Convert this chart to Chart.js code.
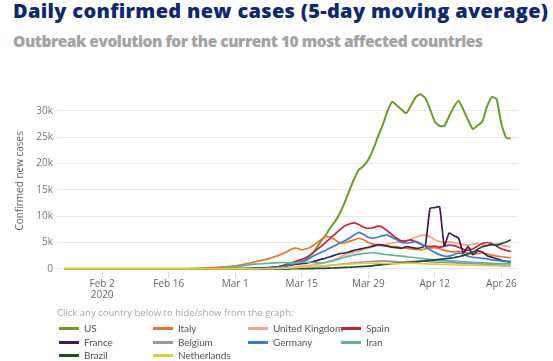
<!DOCTYPE html>
<html lang="en">
<head>
<meta charset="UTF-8">
<title>Daily confirmed new cases</title>
<script src="https://cdn.jsdelivr.net/npm/chart.js@4.4.1/dist/chart.umd.min.js"></script>
<style>
  body{ margin:0; background:#fff; width:553px; height:361px; overflow:hidden; position:relative; font-family:'Open Sans', sans-serif; }
  #chartBox{ position:absolute; left:0; top:0; width:553px; height:310px; }
  .title{ position:absolute; left:13px; top:-1px; font-size:20px; font-weight:800; color:#10296a; white-space:nowrap; line-height:24px; }
  .subtitle{ position:absolute; left:13px; top:31px; font-size:15.5px; font-weight:800; color:#a3a3a3; white-space:nowrap; line-height:20px; }
  .hint{ position:absolute; left:57px; top:306px; font-size:9.5px; color:#a6a6a6; white-space:nowrap; line-height:13px; }
  .item{ position:absolute; font-family:Lato, sans-serif; font-size:10px; color:#555; white-space:nowrap; line-height:12px; letter-spacing:-0.1px; }
  .item i{ display:inline-block; width:20px; height:2.5px; vertical-align:middle; margin-right:5px; position:relative; top:-1px; }
</style>
</head>
<body>
<div class="title" id="title">Daily confirmed new cases (5-day moving average)</div>
<div class="subtitle" id="subtitle">Outbreak evolution for the current 10 most affected countries</div>
<div id="chartBox"><canvas id="chart" width="553" height="310"></canvas></div>
<div class="hint">Click any country below to hide/show from the graph:</div>
<div id="legend"></div>
<script>
// day 0 = Jan 25 2020, last day = Apr 28 2020
const tickDays = [8, 22, 36, 50, 64, 78, 92];
const tickLabels = [['Feb 2', '2020'], 'Feb 16', 'Mar 1', 'Mar 15', 'Mar 29', 'Apr 12', 'Apr 26'];
const yTicks = [0, 5000, 10000, 15000, 20000, 25000, 30000];

const countries = ['US', 'Italy', 'United Kingdom', 'Spain', 'France', 'Belgium', 'Germany', 'Iran', 'Brazil', 'Netherlands'];
const colors = ['#6b9a2e', '#e8732a', '#f2a48c', '#c8203c', '#3f1f4c', '#9a93b2', '#3b7bd2', '#5fb3a2', '#1f4a30', '#e8cb3c'];

const us = [
  0,0,0,0,0,0,0,0,0,0,
  0,0,0,0,0,0,0,0,0,0,
  0,0,0,0,0,0,0,0,0,0,
  0,0,2,4,6,8,10,15,20,30,
  45,70,100,150,220,320,430,560,750,1000,
  1300,1800,2700,3800,5200,6300,7800,9000,10500,12500,
  14800,17000,18800,19500,20700,22600,25000,27200,29800,31700,
  31000,30200,29500,31000,32600,33100,32400,30300,27900,27100,
  27100,28900,30700,31900,30200,28200,26500,27200,27900,30800,
  32600,32200,27500,24900,24700];
const italy = [
  0,0,0,0,0,0,0,0,0,0,
  0,0,0,0,0,0,0,0,0,0,
  0,0,0,0,0,5,20,50,80,120,
  180,230,280,330,380,450,550,700,900,1100,
  1300,1500,1700,1900,2200,2500,2900,3300,3800,3900,
  3600,3800,4200,4800,5500,6100,6000,5500,5000,4900,
  5200,5500,5800,5500,5000,4700,4500,4400,4300,4200,
  4200,4000,3900,3800,3700,3600,3800,3900,4000,3800,
  3500,3300,3200,3300,3200,3000,2800,2900,3000,2800,
  2600,2400,2300,2200,2100];
const uk = [
  0,0,0,0,0,0,0,0,0,0,
  0,0,0,0,0,0,0,0,0,0,
  0,0,0,0,0,0,0,0,0,0,
  0,0,0,0,0,1,2,3,5,8,
  10,20,30,50,80,120,170,230,300,400,
  500,600,700,850,1000,1200,1500,1800,2200,2600,
  2900,3100,3400,3700,3900,4200,4400,4500,4700,4900,
  5000,5200,5400,5600,6000,6300,6400,6100,5500,5200,
  5000,5100,5000,4800,4600,4500,4700,4800,4600,4500,
  4600,4700,4500,4300,4200];
const spain = [
  0,0,0,0,0,0,0,0,0,0,
  0,0,0,0,0,0,0,0,0,0,
  0,0,0,0,0,0,0,0,0,0,
  0,0,0,0,0,1,2,4,8,12,
  20,40,80,150,250,400,600,900,1200,1500,
  1800,2200,2800,3500,4200,5000,5800,6600,7400,8100,
  8500,8700,8400,7900,7700,7800,8100,7900,7200,6500,
  5800,5300,5300,5500,5100,4700,4300,4200,4300,4100,
  4300,4500,4400,4100,3700,3500,3800,4300,4800,5000,
  4800,4300,3800,3500,3300];
const france = [
  0,0,0,0,0,0,0,0,0,0,
  0,0,0,0,0,0,0,0,0,0,
  0,0,0,0,0,0,0,0,0,0,
  0,0,0,0,5,10,20,40,60,90,
  120,160,200,250,320,400,500,650,800,900,
  1000,1100,1300,1500,1800,2000,2300,2600,2900,3000,
  3200,3500,3700,3900,4100,4300,4600,4500,4300,4100,
  4000,3900,4200,4100,3900,4000,4400,11500,11600,11800,
  4300,6800,6300,5800,3000,4200,2700,3400,3200,2500,
  2200,1900,1600,1400,1300];
const belgium = [
  0,0,0,0,0,0,0,0,0,0,
  0,0,0,0,0,0,0,0,0,0,
  0,0,0,0,0,0,0,0,0,0,
  0,0,0,0,0,0,0,0,0,0,
  0,2,5,10,20,40,60,90,120,160,
  200,240,300,380,460,550,650,750,850,950,
  1050,1150,1250,1300,1350,1400,1450,1500,1450,1400,
  1350,1300,1350,1400,1450,1500,1400,1350,1300,1250,
  1250,1200,1150,1100,1100,1050,1000,950,900,850,
  800,750,700,680,650];
const germany = [
  0,0,0,0,0,0,0,0,0,0,
  0,0,0,0,0,0,0,0,0,0,
  0,0,0,0,0,0,0,0,0,0,
  0,0,0,0,0,2,5,10,15,25,
  40,70,110,160,230,320,450,650,900,1100,
  1400,1700,2200,2700,3100,3500,4000,4400,4900,5300,
  5800,6400,6900,6500,6000,5800,6000,6300,6400,6000,
  5500,5000,4900,5000,5200,4800,4200,3600,3100,2700,
  2400,2400,2700,3000,2800,2400,2200,2100,2000,1900,
  1700,1600,1500,1400,1400];
const iran = [
  0,0,0,0,0,0,0,0,0,0,
  0,0,0,0,0,0,0,0,0,0,
  0,0,0,0,0,0,0,0,5,10,
  20,40,70,110,160,230,330,450,600,750,
  880,950,1000,1050,1100,1150,1200,1150,1100,1150,
  1200,1250,1200,1150,1100,1200,1400,1600,1900,2200,
  2400,2600,2800,2900,3000,3050,2950,2800,2700,2600,
  2500,2400,2300,2200,2100,2000,1900,1800,1700,1600,
  1550,1500,1450,1400,1350,1300,1250,1200,1150,1100,
  1050,1000,1000,1000,1000];
const brazil = [
  0,0,0,0,0,0,0,0,0,0,
  0,0,0,0,0,0,0,0,0,0,
  0,0,0,0,0,0,0,0,0,0,
  0,0,0,0,0,0,0,0,0,0,
  0,0,1,2,4,6,8,10,12,15,
  20,30,40,60,80,100,140,180,220,260,
  300,350,400,450,500,600,700,800,900,1000,
  1100,1150,1200,1250,1300,1400,1500,1600,1700,1800,
  1900,2000,2100,2300,2500,2800,3200,3700,4200,4400,
  4600,4500,4800,5100,5500];
const netherlands = [
  0,0,0,0,0,0,0,0,0,0,
  0,0,0,0,0,0,0,0,0,0,
  0,0,0,0,0,0,0,0,0,0,
  0,0,0,0,0,0,0,0,1,3,
  5,10,20,30,50,80,110,150,190,240,
  300,350,420,500,560,620,680,740,800,850,
  900,950,1000,1050,1100,1100,1080,1050,1020,1000,
  1000,1050,1100,1100,1050,1000,950,900,900,880,
  850,820,800,780,750,720,700,680,650,600,
  580,550,530,500,480];

const series = [us, italy, uk, spain, france, belgium, germany, iran, brazil, netherlands];

// stretch text to the reference width with letter-spacing
function fitWidth(id, target) {
  const el = document.getElementById(id);
  const w = el.getBoundingClientRect().width;
  const n = el.textContent.length - 1;
  el.style.letterSpacing = ((target - w) / n) + 'px';
}
fitWidth('title', 535);
fitWidth('subtitle', 470);

const datasets = series.map((vals, i) => ({
  label: countries[i],
  data: vals.map((v, d) => ({ x: d, y: v })),
  borderColor: colors[i],
  backgroundColor: colors[i],
  borderWidth: i === 0 ? 2 : 1.7,
  pointRadius: 0,
  tension: 0.15,
  order: 10 - i
}));

const tickFont = { family: "'Open Sans', sans-serif", size: 10 };

new Chart(document.getElementById('chart'), {
  type: 'line',
  data: { datasets: datasets },
  options: {
    responsive: false,
    animation: false,
    devicePixelRatio: 1,
    layout: { padding: { left: 12, right: 35.5, top: 89.6, bottom: 0 } },
    plugins: { legend: { display: false }, tooltip: { enabled: false } },
    scales: {
      x: {
        type: 'linear',
        min: -1.5,
        max: 95.4,
        afterBuildTicks: (scale) => { scale.ticks = tickDays.map(v => ({ value: v })); },
        afterFit: (scale) => { scale.height = 38; },
        ticks: {
          autoSkip: false, maxRotation: 0, padding: 0, color: '#666',
          font: { family: tickFont.family, size: 10, lineHeight: 1.15 },
          callback: (v) => tickLabels[tickDays.indexOf(v)]
        },
        grid: { drawOnChartArea: false, drawTicks: true, tickLength: 6, color: '#dcdcdc' },
        border: { display: false }
      },
      y: {
        min: -600,
        max: 34000,
        afterBuildTicks: (scale) => { scale.ticks = yTicks.map(v => ({ value: v })); },
        afterFit: (scale) => { scale.width = 45; },
        ticks: {
          padding: 4, color: '#777', font: tickFont,
          callback: (v) => v === 0 ? '0' : (v / 1000) + 'k'
        },
        grid: { drawTicks: false, color: '#e9e9e9', lineWidth: 1 },
        border: { display: false },
        title: { display: true, text: 'Confirmed new cases', color: '#666', padding: 2,
                 font: { family: tickFont.family, size: 10 } }
      }
    }
  }
});

// html legend built from the same country / colour lists
const legend = document.getElementById('legend');
const colX = [59, 153, 248, 341];
const rowY = [322, 336, 349];
countries.forEach((name, i) => {
  const d = document.createElement('div');
  d.className = 'item';
  d.style.left = colX[i % 4] + 'px';
  d.style.top = rowY[Math.floor(i / 4)] + 'px';
  d.innerHTML = '<i style="background:' + colors[i] + '"></i>' + name;
  legend.appendChild(d);
});
</script>
</body>
</html>
